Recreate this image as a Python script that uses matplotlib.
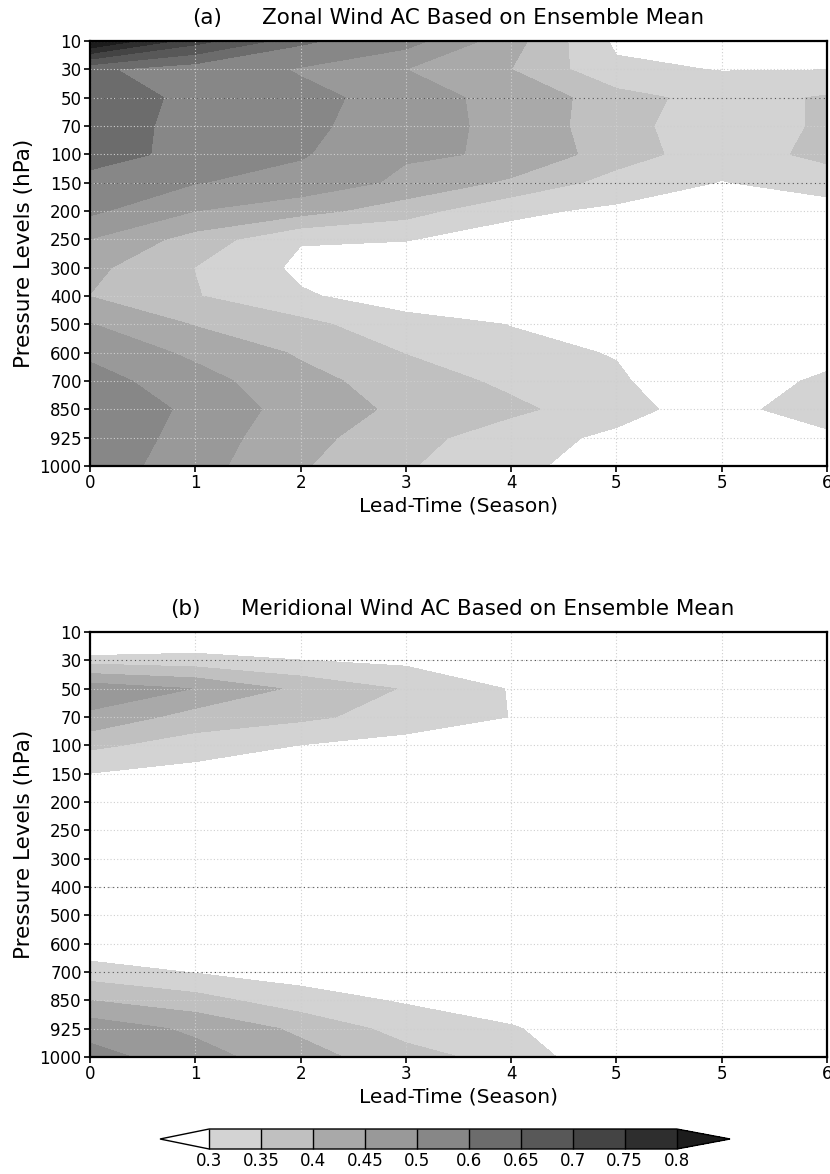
import numpy as np
import matplotlib
matplotlib.use("Agg")
import matplotlib.pyplot as plt
from matplotlib.colors import ListedColormap, BoundaryNorm

# pressure levels, top of the plot first
pressure_labels = ["10", "30", "50", "70", "100", "150", "200", "250", "300",
                   "400", "500", "600", "700", "850", "925", "1000"]
# lead-time tick labels as printed on the original
lead_labels = ["0", "1", "2", "3", "4", "5", "5", "6"]
ac_levels = [0.3, 0.35, 0.4, 0.45, 0.5, 0.6, 0.65, 0.7, 0.75, 0.8]

# anomaly correlation, rows = pressure levels, cols = lead time
zonal_ac = [
    [0.86, 0.72, 0.62, 0.52, 0.42, 0.29, 0.27, 0.28],
    [0.61, 0.57, 0.49, 0.45, 0.40, 0.31, 0.298, 0.299],
    [0.63, 0.587, 0.53, 0.459, 0.443, 0.369, 0.33, 0.355],
    [0.625, 0.584, 0.52, 0.453, 0.448, 0.361, 0.33, 0.355],
    [0.63, 0.578, 0.505, 0.455, 0.446, 0.373, 0.322, 0.365],
    [0.575, 0.502, 0.48, 0.44, 0.39, 0.33, 0.298, 0.32],
    [0.51, 0.45, 0.42, 0.37, 0.31, 0.29, 0.27, 0.28],
    [0.449, 0.38, 0.303, 0.302, 0.28, 0.27, 0.27, 0.27],
    [0.413, 0.349, 0.29, 0.27, 0.265, 0.26, 0.26, 0.26],
    [0.399, 0.353, 0.305, 0.28, 0.27, 0.26, 0.26, 0.26],
    [0.452, 0.397, 0.365, 0.315, 0.299, 0.28, 0.265, 0.265],
    [0.49, 0.439, 0.394, 0.348, 0.31, 0.298, 0.27, 0.28],
    [0.52, 0.47, 0.415, 0.378, 0.338, 0.305, 0.27, 0.31],
    [0.55, 0.486, 0.429, 0.389, 0.362, 0.318, 0.273, 0.344],
    [0.54, 0.478, 0.416, 0.37, 0.32, 0.29, 0.27, 0.28],
    [0.53, 0.47, 0.405, 0.355, 0.31, 0.281, 0.27, 0.27],
]

meridional_ac = [
    [0.15, 0.24, 0.20, 0.20, 0.20, 0.20, 0.20, 0.20],
    [0.33, 0.32, 0.301, 0.288, 0.25, 0.24, 0.23, 0.22],
    [0.48, 0.449, 0.389, 0.346, 0.297, 0.27, 0.25, 0.24],
    [0.44, 0.378, 0.36, 0.33, 0.299, 0.27, 0.25, 0.24],
    [0.36, 0.327, 0.299, 0.28, 0.26, 0.25, 0.24, 0.23],
    [0.299, 0.28, 0.26, 0.25, 0.24, 0.23, 0.23, 0.22],
    [0.25, 0.24, 0.23, 0.22, 0.22, 0.21, 0.21, 0.20],
    [0.22, 0.21, 0.21, 0.20, 0.20, 0.20, 0.19, 0.19],
    [0.20, 0.20, 0.19, 0.19, 0.19, 0.18, 0.18, 0.18],
    [0.19, 0.19, 0.18, 0.18, 0.18, 0.17, 0.17, 0.17],
    [0.20, 0.19, 0.18, 0.18, 0.17, 0.17, 0.17, 0.16],
    [0.26, 0.24, 0.22, 0.20, 0.19, 0.18, 0.18, 0.17],
    [0.325, 0.297, 0.28, 0.26, 0.25, 0.23, 0.21, 0.20],
    [0.40, 0.37, 0.32, 0.295, 0.27, 0.25, 0.23, 0.22],
    [0.48, 0.44, 0.39, 0.33, 0.305, 0.26, 0.24, 0.23],
    [0.52, 0.47, 0.42, 0.37, 0.33, 0.26, 0.25, 0.24],
]

grays = ["#d3d3d3", "#c0c0c0", "#a9a9a9", "#999999", "#878787",
         "#6c6c6c", "#585858", "#444444", "#2e2e2e"]
cmap = ListedColormap(grays)
cmap.set_under("white")
cmap.set_over("#1c1c1c")
norm = BoundaryNorm(ac_levels, cmap.N)

W, H = 830, 1174
fig = plt.figure(figsize=(W / 100, H / 100), dpi=100)


def panel(top_px, data, tag, title, tag_right, dark_rows):
    ax = fig.add_axes([90 / W, 1 - (top_px + 425) / H, 737 / W, 425 / H])
    x = np.arange(len(lead_labels))
    y = np.arange(len(pressure_labels))
    cf = ax.contourf(x, y, np.array(data), levels=ac_levels, cmap=cmap,
                     norm=norm, extend="both")
    ax.set_xlim(0, len(lead_labels) - 1)
    ax.set_ylim(len(pressure_labels) - 1, 0)
    ax.set_xticks(x)
    ax.set_xticklabels(lead_labels, fontsize=12)
    ax.set_yticks(y)
    ax.set_yticklabels(pressure_labels, fontsize=12)
    ax.tick_params(direction="out", length=4, width=1.2, pad=2)
    ax.grid(color="#cfcfcf", linestyle=(0, (1, 2)), linewidth=0.8)
    for r in dark_rows:
        ax.axhline(r, color="#555555", linestyle=(0, (1, 3)), linewidth=0.8)
    for s in ax.spines.values():
        s.set_linewidth(1.6)
    ax.set_ylabel("Pressure Levels (hPa)", fontsize=15.5, labelpad=4)
    ax.set_xlabel("Lead-Time (Season)", fontsize=14.5, labelpad=3)
    ty = 1 - (top_px - 23) / H
    fig.text(tag_right / W, ty, tag, ha="right", va="center", fontsize=15.5)
    fig.text((tag_right + 40) / W, ty, title, ha="left", va="center",
             fontsize=15.5)
    return cf


cf = panel(41, zonal_ac, "(a)", "Zonal Wind AC Based on Ensemble Mean",
           222, [2, 5])
panel(632, meridional_ac, "(b)", "Meridional Wind AC Based on Ensemble Mean",
      201, [1, 9, 12])

cax = fig.add_axes([160 / W, 1 - 1149 / H, 570 / W, 20 / H])
cb = fig.colorbar(cf, cax=cax, orientation="horizontal", extend="both",
                  extendfrac=(60 / 570, 65 / 570), drawedges=True)
cb.set_ticks(ac_levels)
cb.set_ticklabels([f"{v:g}" for v in ac_levels])
cb.ax.tick_params(length=0, labelsize=12, pad=2)
cb.outline.set_linewidth(1.0)
cb.dividers.set_linewidth(1.0)

fig.savefig("out.png", dpi=100)
